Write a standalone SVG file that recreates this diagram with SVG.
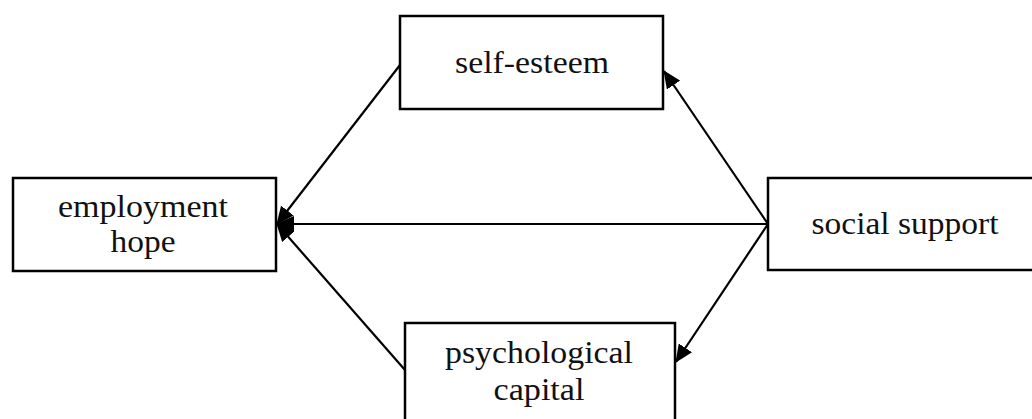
<svg xmlns="http://www.w3.org/2000/svg" width="1032" height="419" viewBox="0 0 1032 419">
<style>
.box{fill:#fff;stroke:#000;stroke-width:2.5}
.lbl{font-family:"Liberation Serif","Times New Roman",serif;font-size:31px;fill:#111;text-anchor:middle}
.edge{stroke:#000;stroke-width:2.2;fill:none;marker-end:url(#ah)}
</style>
<defs>
<marker id="ah" markerWidth="18" markerHeight="16" refX="17" refY="8" orient="auto" markerUnits="userSpaceOnUse">
<path d="M0,0 L18,8 L0,16 Z" fill="#000"/>
</marker>
</defs>
<rect width="1032" height="419" fill="#fff"/>
<g id="connectors">
<line class="edge" x1="768" y1="224" x2="664" y2="71"/>
<line class="edge" x1="768" y1="224" x2="676" y2="362"/>
<line class="edge" x1="768" y1="224" x2="277" y2="224"/>
<line class="edge" x1="400" y1="65" x2="277" y2="224"/>
<line class="edge" x1="405" y1="370" x2="277" y2="224"/>
</g>
<g id="self-esteem">
<rect class="box" x="400" y="16" width="263" height="93"/>
<text class="lbl" x="532" y="73" textLength="154" lengthAdjust="spacingAndGlyphs">self-esteem</text>
</g>
<g id="employment-hope">
<rect class="box" x="13" y="178" width="263" height="93"/>
<text class="lbl" x="143" y="217" textLength="170" lengthAdjust="spacingAndGlyphs">employment</text>
<text class="lbl" x="143" y="252" textLength="65" lengthAdjust="spacingAndGlyphs">hope</text>
</g>
<g id="social-support">
<rect class="box" x="768" y="178" width="280" height="92"/>
<text class="lbl" x="905" y="234" textLength="187" lengthAdjust="spacingAndGlyphs">social support</text>
</g>
<g id="psychological-capital">
<rect class="box" x="405" y="323" width="270" height="110"/>
<text class="lbl" x="539" y="363" textLength="188" lengthAdjust="spacingAndGlyphs">psychological</text>
<text class="lbl" x="539" y="400" textLength="91" lengthAdjust="spacingAndGlyphs">capital</text>
</g>
</svg>
